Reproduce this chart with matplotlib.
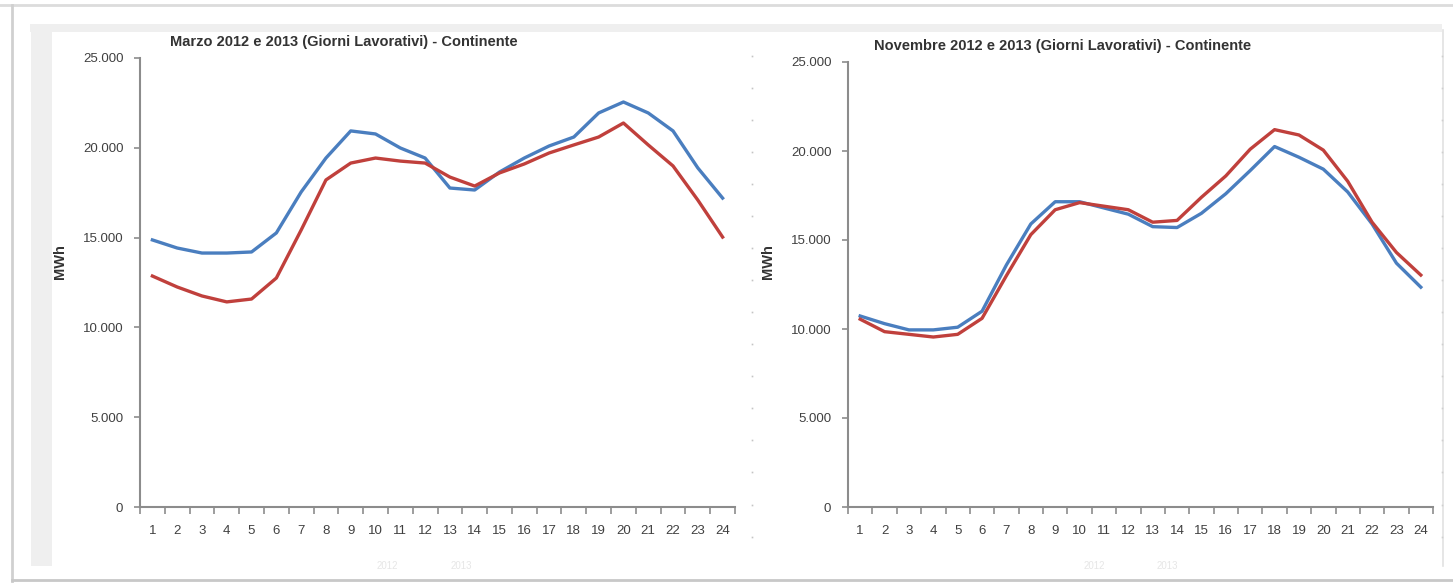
import matplotlib
matplotlib.use("Agg")
import matplotlib.pyplot as plt
from matplotlib.patches import Rectangle
from matplotlib.lines import Line2D
from matplotlib.ticker import FuncFormatter, FixedLocator, NullFormatter
from matplotlib import font_manager

# Hourly consumption on working days, continental grid (MWh)
hours = list(range(1, 25))
hour_labels = [str(h) for h in hours]
years = ["2012", "2013"]

march_2012 = [14870, 14420, 14140, 14140, 14200, 15260, 17540, 19430, 20940, 20770,
              19990, 19430, 17760, 17650, 18650, 19430, 20100, 20600, 21940, 22550,
              21940, 20940, 18880, 17200]
march_2013 = [12860, 12250, 11750, 11420, 11580, 12750, 15420, 18210, 19150, 19430,
              19260, 19150, 18370, 17870, 18600, 19100, 19710, 20160, 20600, 21380,
              20160, 18990, 17090, 15030]

november_2012 = [10730, 10300, 9950, 9950, 10100, 11000, 13600, 15900, 17150, 17150,
                 16800, 16450, 15750, 15700, 16500, 17600, 18900, 20250, 19650, 18980,
                 17700, 15900, 13700, 12350]
november_2013 = [10550, 9850, 9700, 9550, 9700, 10600, 13000, 15300, 16700, 17100,
                 16900, 16700, 16000, 16100, 17400, 18600, 20100, 21200, 20900, 20050,
                 18300, 16000, 14300, 13030]

titles = ["Marzo 2012 e 2013 (Giorni Lavorativi) - Continente",
          "Novembre 2012 e 2013 (Giorni Lavorativi) - Continente"]
y_label = "MWh"
y_ticks = [0, 5000, 10000, 15000, 20000, 25000]

BLUE = "#4a7ebf"
RED = "#c0403c"
AXIS = "#8c8c8c"
TEXT = "#404040"

available = {f.name for f in font_manager.fontManager.ttflist}
FONT = "Liberation Sans Narrow" if "Liberation Sans Narrow" in available else "Liberation Sans"
plt.rcParams["font.family"] = [FONT, "DejaVu Sans"]

W, H = 1453, 583
fig = plt.figure(figsize=(W / 100, H / 100), dpi=100)
fig.patch.set_facecolor("white")


def px_rect(x0, y0, x1, y1, color, z=0):
    fig.patches.append(Rectangle((x0 / W, 1 - y1 / H), (x1 - x0) / W, (y1 - y0) / H,
                                 transform=fig.transFigure, facecolor=color,
                                 edgecolor="none", zorder=z))


def px_line(xs, ys, color, lw=1.0, z=1, **kw):
    fig.lines.append(Line2D([x / W for x in xs], [1 - y / H for y in ys],
                            transform=fig.transFigure, color=color, lw=lw,
                            zorder=z, **kw))


# Page frame
px_line([0, W], [5, 5], "#dcdcdc", lw=2.0)
px_line([12, 12], [5, 583], "#d0d0d0", lw=2.0)
px_line([12, W], [580, 580], "#c8c8c8", lw=2.0)
px_rect(30, 24, 1442, 32, "#efefef")
px_rect(31, 24, 52, 566, "#efefef")
px_line([1443, 1443], [30, 566], "#e2e2e2", lw=1.2)
# faint gridpoint leftovers between the two charts
dot_y = [56, 88, 120, 152, 184, 216, 248, 280, 312, 344, 376, 408, 440, 472, 505, 537]
px_line([752] * len(dot_y), dot_y, "none", marker="s", markersize=1.2,
        markerfacecolor="#c4c4c4", markeredgecolor="none", linestyle="none")
px_line([1442] * len(dot_y), dot_y, "none", marker="s", markersize=1.2,
        markerfacecolor="#cfcfcf", markeredgecolor="none", linestyle="none")

thousands = FuncFormatter(lambda v, _: f"{int(v):,}".replace(",", "."))

panels = [
    dict(rect=(140, 58, 735, 507), data=(march_2012, march_2013), title=titles[0],
         title_xy=(344, 42), ylabel_x=60, legend_x=(387, 461)),
    dict(rect=(848, 62, 1433, 507), data=(november_2012, november_2013), title=titles[1],
         title_xy=(1063, 46), ylabel_x=768, legend_x=(1094, 1167)),
]

for p in panels:
    x0, y0, x1, y1 = p["rect"]
    ax = fig.add_axes([x0 / W, 1 - y1 / H, (x1 - x0) / W, (y1 - y0) / H])
    ax.set_facecolor("none")
    s12, s13 = p["data"]
    ax.plot(hours, s12, color=BLUE, lw=2.4, solid_joinstyle="round", label=years[0])
    ax.plot(hours, s13, color=RED, lw=2.4, solid_joinstyle="round", label=years[1])

    ax.set_xlim(0.5, 24.5)
    ax.set_ylim(0, 25000)
    ax.set_yticks(y_ticks)
    ax.yaxis.set_major_formatter(thousands)
    ax.set_xticks(hours)
    ax.set_xticklabels(hour_labels)
    ax.xaxis.set_minor_locator(FixedLocator([h + 0.5 for h in [0] + hours]))
    ax.xaxis.set_minor_formatter(NullFormatter())
    ax.tick_params(axis="x", which="major", length=0, pad=13, labelsize=9.5,
                   labelcolor=TEXT)
    ax.tick_params(axis="x", which="minor", length=5, width=1.2, color=AXIS,
                   direction="out")
    ax.tick_params(axis="y", length=4, width=1.2, color=AXIS, direction="out",
                   pad=8, labelsize=9.5, labelcolor=TEXT)
    for side in ("top", "right"):
        ax.spines[side].set_visible(False)
    for side in ("left", "bottom"):
        ax.spines[side].set_color(AXIS)
        ax.spines[side].set_linewidth(1.5)

    tx, ty = p["title_xy"]
    fig.text(tx / W, 1 - ty / H, p["title"], ha="center", va="center",
             fontsize=10.5, fontweight="bold", color="#333333")
    fig.text(p["ylabel_x"] / W, 1 - 262 / H, y_label, rotation=90, ha="center",
             va="center", fontsize=10.5, fontweight="bold", color="#333333")
    # barely visible legend under the axis
    for lx, yr in zip(p["legend_x"], years):
        fig.text(lx / W, 1 - 566 / H, yr, ha="center", va="center", fontsize=7,
                 color="#e6e6e6")

fig.savefig("out.png", dpi=100, facecolor="white")
